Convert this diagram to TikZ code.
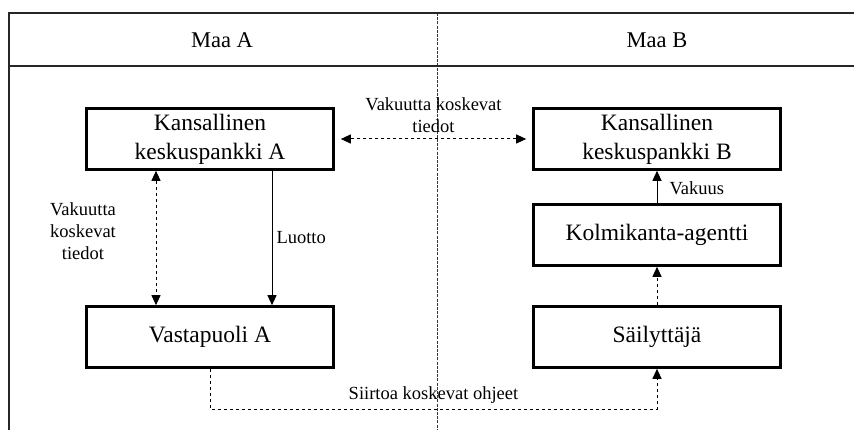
\documentclass[tikz,border=0pt]{standalone}
\usepackage{fontspec}
\setmainfont{Liberation Serif}
\usetikzlibrary{arrows.meta}
\begin{document}
\begin{tikzpicture}[x=1pt,y=-1pt,
  box/.style={draw=black,line width=2.6pt,minimum width=247pt,minimum height=61pt,
    align=center,inner sep=0pt,font=\fontsize{23.5}{29}\selectfont},
  hdr/.style={font=\fontsize{22.5}{27}\selectfont,inner sep=0pt},
  lbl/.style={font=\fontsize{18.5}{22}\selectfont,align=center,inner sep=0pt},
  frame/.style={line width=2.4pt,draw=black!85},
  tip/.style={},
  conn/.style={line width=1pt,-{Triangle[length=10pt,width=9pt]}},
  dconn/.style={conn,dash pattern=on 3.5pt off 2.5pt},
  ddconn/.style={dconn,{Triangle[length=10pt,width=9pt]}-{Triangle[length=10pt,width=9pt]}},
  divider/.style={line width=0.8pt,draw=black!80,dash pattern=on 3pt off 1.2pt}]
\useasboundingbox (0,0) rectangle (854,430);
% frame
\coordinate (ftl) at (9,13);
\coordinate (ftr) at (858,13);
\coordinate (fhl) at (9,66);
\coordinate (fhr) at (858,66);
\coordinate (fbl) at (9,434);
\coordinate (dtop) at (437,13);
\coordinate (dbot) at (437,434);
\draw[divider] (dtop) -- (dbot);
\draw[frame] (ftr) -- (ftl) -- (fbl);
\draw[frame] (fhl) -- (fhr);
\node[hdr] (maaA) at (222,40) {Maa A};
\node[hdr] (maaB) at (657,40) {Maa B};
% boxes
\node[box] (KA) at (210,139) {Kansallinen\\keskuspankki A};
\node[box] (KB) at (657,139) {Kansallinen\\keskuspankki B};
\node[box] (KM) at (657,235) {Kolmikanta-agentti};
\node[box] (VA) at (210,337) {Vastapuoli A};
\node[box] (SA) at (657,337) {Säilyttäjä};
% connectors
\draw[ddconn] ([xshift=-6pt]KB.west) -- node[lbl,above=6pt] (l1) {Vakuutta koskevat\\tiedot} ([xshift=6pt]KA.east);
\draw[ddconn] (KA.south -| 156,0) -- (VA.north -| 156,0);
\node[lbl] (l2) at (83,231) {Vakuutta\\koskevat\\tiedot};
\draw[conn] (KA.south -| 272,0) -- node[lbl,right=4pt] (l3) {Luotto} (VA.north -| 272,0);
\draw[conn] (KM.north) -- node[lbl,right=12pt,pos=0.45] (l4) {Vakuus} (KB.south);
\draw[dconn] (SA.north) -- (KM.south);
\coordinate (c1) at (210,409);
\coordinate (c2) at (657,409);
\draw[dconn] (VA.south) -- (c1) -- node[lbl,above=5pt] (l5) {Siirtoa koskevat ohjeet} (c2) -- (SA.south);
\end{tikzpicture}
\end{document}
